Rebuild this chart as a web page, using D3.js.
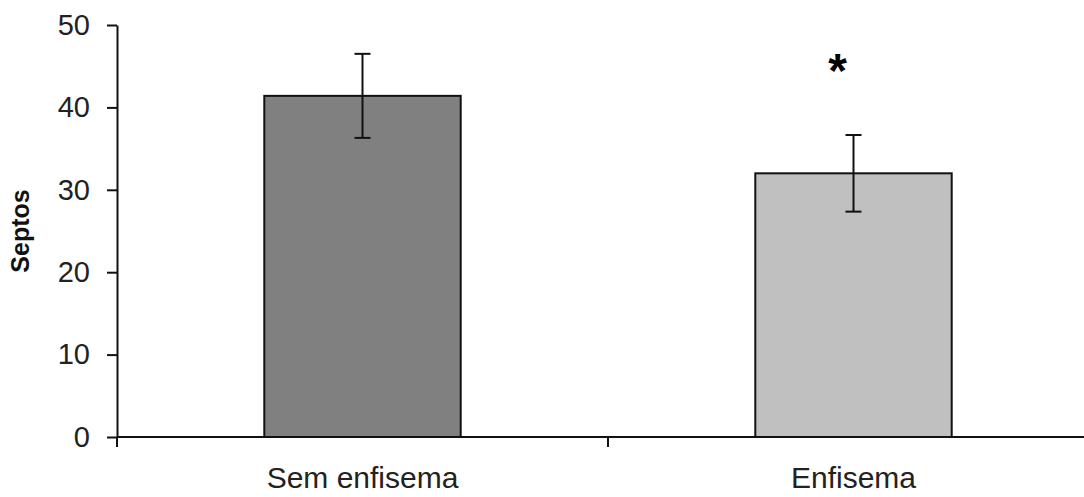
<!DOCTYPE html>
<html>
<head>
<meta charset="utf-8">
<script src="https://cdn.jsdelivr.net/npm/d3@7"></script>
<style>
  body { margin: 0; background: #fff; }
  text { font-family: "Liberation Sans", Arial, sans-serif; }
</style>
</head>
<body>
<svg id="plot"></svg>
<script>
// data
const categories = ["Sem enfisema", "Enfisema"];
const means = [41.4, 32.0];
const errors = [5.1, 4.65];
const barColors = ["#808080", "#c0c0c0"];
const yTicks = [0, 10, 20, 30, 40, 50];
const starred = ["Enfisema"]; // significance marks
const starValue = 45.5;

// init setting
const svg = d3.select("#plot")
    .attr("width", 1084)
    .attr("height", 497);
const margin = { top: 25, right: -15, bottom: 60, left: 117 };
const width = +svg.attr("width") - margin.left - margin.right;
const height = +svg.attr("height") - margin.top - margin.bottom;

const g = svg.append("g")
    .attr("transform", `translate(${margin.left},${margin.top})`);

// scales
const x = d3.scaleBand()
    .domain(categories)
    .range([0, width])
    .padding(0);
const y = d3.scaleLinear()
    .domain([0, 50])
    .range([height, 0]);
const barW = x.bandwidth() * 0.4;

// bars
g.selectAll(".bar")
    .data(categories)
    .enter().append("rect")
    .attr("class", "bar")
    .attr("x", d => x(d) + (x.bandwidth() - barW) / 2)
    .attr("y", (d, i) => y(means[i]))
    .attr("width", barW)
    .attr("height", (d, i) => y(0) - y(means[i]))
    .style("fill", (d, i) => barColors[i])
    .style("stroke", "#111")
    .style("stroke-width", 2);

// error bars
const errG = g.selectAll(".err")
    .data(categories)
    .enter().append("g")
    .attr("class", "err")
    .style("stroke", "#111")
    .style("stroke-width", 2);
errG.append("line")
    .attr("x1", d => x(d) + x.bandwidth() / 2)
    .attr("x2", d => x(d) + x.bandwidth() / 2)
    .attr("y1", (d, i) => y(means[i] + errors[i]))
    .attr("y2", (d, i) => y(means[i] - errors[i]));
[1, -1].forEach(s => {
    errG.append("line")
        .attr("x1", d => x(d) + x.bandwidth() / 2 - 8)
        .attr("x2", d => x(d) + x.bandwidth() / 2 + 8)
        .attr("y1", (d, i) => y(means[i] + s * errors[i]))
        .attr("y2", (d, i) => y(means[i] + s * errors[i]));
});

// y axis
const yAxis = g.append("g")
    .call(d3.axisLeft(y).tickValues(yTicks).tickSize(10).tickSizeOuter(0).tickPadding(17));
yAxis.select(".domain").style("stroke", "#111").style("stroke-width", 2);
yAxis.selectAll(".tick line").style("stroke", "#111").style("stroke-width", 2);
yAxis.selectAll(".tick text")
    .style("font-size", "29px")
    .style("fill", "#222");

// x axis (ticks between categories)
g.append("line")
    .attr("x1", 0).attr("x2", width)
    .attr("y1", y(0)).attr("y2", y(0))
    .style("stroke", "#111").style("stroke-width", 2);
g.selectAll(".xtick")
    .data(d3.range(categories.length + 1))
    .enter().append("line")
    .attr("class", "xtick")
    .attr("x1", i => i * x.step()).attr("x2", i => i * x.step())
    .attr("y1", y(0)).attr("y2", y(0) + 10)
    .style("stroke", "#111").style("stroke-width", 2);

// category labels
g.selectAll(".cat-label")
    .data(categories)
    .enter().append("text")
    .attr("class", "cat-label")
    .attr("x", d => x(d) + x.bandwidth() / 2)
    .attr("y", y(0) + 51)
    .style("text-anchor", "middle")
    .style("font-size", "30px")
    .style("fill", "#222")
    .text(d => d);

// y label
svg.append("text")
    .attr("transform", `translate(29,${margin.top + y(25)}) rotate(-90)`)
    .style("text-anchor", "middle")
    .style("font-size", "25px")
    .style("font-weight", "bold")
    .style("fill", "#111")
    .text("Septos");

// significance star
g.selectAll(".star")
    .data(starred)
    .enter().append("text")
    .attr("class", "star")
    .attr("x", d => x(d) + x.bandwidth() / 2 - 16)
    .attr("y", y(starValue) + 25)
    .style("text-anchor", "middle")
    .style("font-size", "48px")
    .style("font-weight", "bold")
    .style("fill", "#000")
    .text("*");
</script>
</body>
</html>
